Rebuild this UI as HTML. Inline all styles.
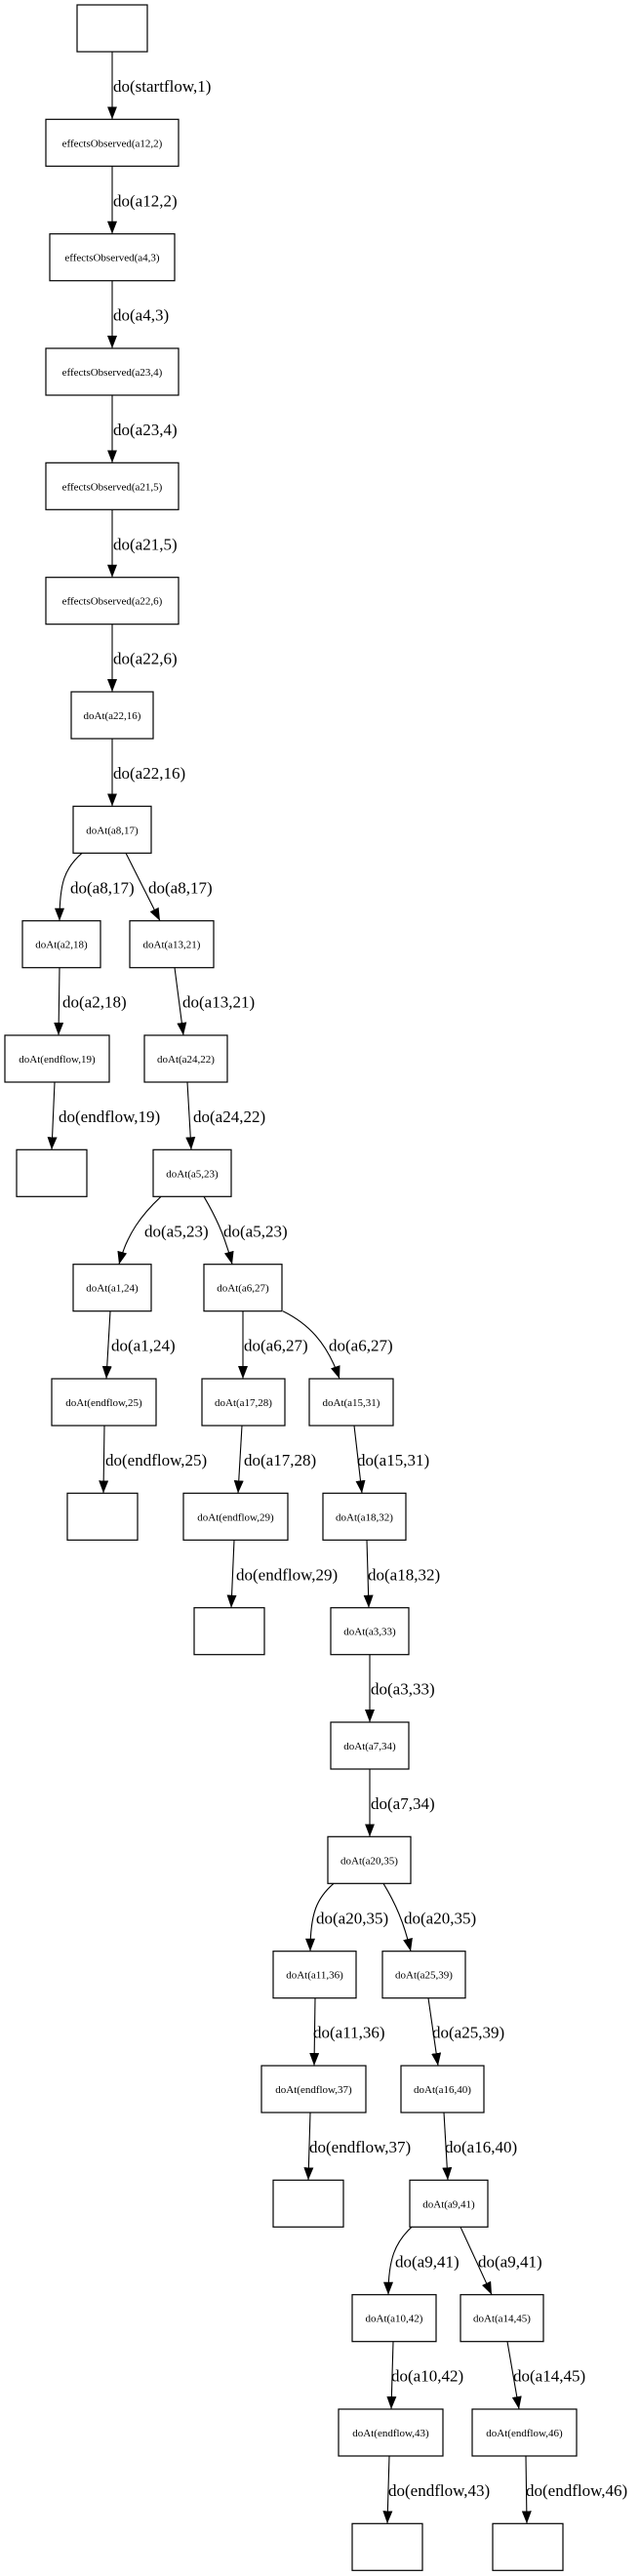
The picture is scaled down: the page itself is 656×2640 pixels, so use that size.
<!DOCTYPE html>
<html><head><meta charset="utf-8"><style>
html,body{margin:0;padding:0;background:#fff;}
svg{display:block}
.n{fill:#fff;stroke:#000;stroke-width:1.2}
.t{font-family:"Liberation Serif",serif;font-size:11px;text-anchor:middle}
.l{font-family:"Liberation Serif",serif;font-size:17px}
.e{fill:none;stroke:#000;stroke-width:1.1}
</style></head><body>
<svg width="656" height="2640" viewBox="0 0 656 2640" xmlns="http://www.w3.org/2000/svg">
<defs><marker id="a" viewBox="0 0 13 10" refX="13" refY="5" markerWidth="13" markerHeight="10" markerUnits="userSpaceOnUse" orient="auto"><path d="M0,0 L13,5 L0,10 z" fill="#000"/></marker></defs>

<!-- nodes -->
<rect class="n" x="79" y="5" width="72" height="48"/>
<rect class="n" x="47" y="122.3" width="136" height="48"/><text class="t" x="115" y="150.3">effectsObserved(a12,2)</text>
<rect class="n" x="51" y="239.7" width="128" height="48"/><text class="t" x="115" y="267.7">effectsObserved(a4,3)</text>
<rect class="n" x="47" y="357" width="136" height="48"/><text class="t" x="115" y="385">effectsObserved(a23,4)</text>
<rect class="n" x="47" y="474.3" width="136" height="48"/><text class="t" x="115" y="502.3">effectsObserved(a21,5)</text>
<rect class="n" x="47" y="591.7" width="136" height="48"/><text class="t" x="115" y="619.7">effectsObserved(a22,6)</text>
<rect class="n" x="73" y="709" width="84" height="48"/><text class="t" x="115" y="737">doAt(a22,16)</text>
<rect class="n" x="75" y="826.3" width="80" height="48"/><text class="t" x="115" y="854.3">doAt(a8,17)</text>
<rect class="n" x="23" y="943.7" width="80" height="48"/><text class="t" x="63" y="971.7">doAt(a2,18)</text>
<rect class="n" x="133" y="943.7" width="86" height="48"/><text class="t" x="176" y="971.7">doAt(a13,21)</text>
<rect class="n" x="5" y="1061" width="107" height="48"/><text class="t" x="58.5" y="1089">doAt(endflow,19)</text>
<rect class="n" x="148" y="1061" width="85" height="48"/><text class="t" x="190.5" y="1089">doAt(a24,22)</text>
<rect class="n" x="17" y="1178.3" width="72" height="48"/>
<rect class="n" x="157" y="1178.3" width="80" height="48"/><text class="t" x="197" y="1206.3">doAt(a5,23)</text>
<rect class="n" x="75" y="1295.7" width="80" height="48"/><text class="t" x="115" y="1323.7">doAt(a1,24)</text>
<rect class="n" x="209" y="1295.7" width="80" height="48"/><text class="t" x="249" y="1323.7">doAt(a6,27)</text>
<rect class="n" x="53" y="1413" width="107" height="48"/><text class="t" x="106.5" y="1441">doAt(endflow,25)</text>
<rect class="n" x="207" y="1413" width="85" height="48"/><text class="t" x="249.5" y="1441">doAt(a17,28)</text>
<rect class="n" x="317" y="1413" width="86" height="48"/><text class="t" x="360" y="1441">doAt(a15,31)</text>
<rect class="n" x="69" y="1530.3" width="72" height="48"/>
<rect class="n" x="188" y="1530.3" width="107" height="48"/><text class="t" x="241.5" y="1558.3">doAt(endflow,29)</text>
<rect class="n" x="331" y="1530.3" width="85" height="48"/><text class="t" x="373.5" y="1558.3">doAt(a18,32)</text>
<rect class="n" x="199" y="1647.7" width="72" height="48"/>
<rect class="n" x="339" y="1647.7" width="80" height="48"/><text class="t" x="379" y="1675.7">doAt(a3,33)</text>
<rect class="n" x="339" y="1765" width="80" height="48"/><text class="t" x="379" y="1793">doAt(a7,34)</text>
<rect class="n" x="336" y="1882.3" width="85" height="48"/><text class="t" x="378.5" y="1910.3">doAt(a20,35)</text>
<rect class="n" x="280" y="1999.7" width="85" height="48"/><text class="t" x="322.5" y="2027.7">doAt(a11,36)</text>
<rect class="n" x="392" y="1999.7" width="85" height="48"/><text class="t" x="434.5" y="2027.7">doAt(a25,39)</text>
<rect class="n" x="268" y="2117" width="107" height="48"/><text class="t" x="321.5" y="2145">doAt(endflow,37)</text>
<rect class="n" x="411" y="2117" width="85" height="48"/><text class="t" x="453.5" y="2145">doAt(a16,40)</text>
<rect class="n" x="280" y="2234.3" width="72" height="48"/>
<rect class="n" x="420" y="2234.3" width="80" height="48"/><text class="t" x="460" y="2262.3">doAt(a9,41)</text>
<rect class="n" x="361" y="2351.7" width="86" height="48"/><text class="t" x="404" y="2379.7">doAt(a10,42)</text>
<rect class="n" x="472" y="2351.7" width="85" height="48"/><text class="t" x="514.5" y="2379.7">doAt(a14,45)</text>
<rect class="n" x="347" y="2469" width="107" height="48"/><text class="t" x="400.5" y="2497">doAt(endflow,43)</text>
<rect class="n" x="484" y="2469" width="107" height="48"/><text class="t" x="537.5" y="2497">doAt(endflow,46)</text>
<rect class="n" x="361" y="2586.3" width="72" height="48"/>
<rect class="n" x="505" y="2586.3" width="72" height="48"/>

<!-- edges -->
<path class="e" marker-end="url(#a)" d="M115,53 L115,122.3"/><text class="l" x="116" y="94">do(startflow,1)</text>
<path class="e" marker-end="url(#a)" d="M115,170.3 L115,239.7"/><text class="l" x="116" y="211.3">do(a12,2)</text>
<path class="e" marker-end="url(#a)" d="M115,287.7 L115,357"/><text class="l" x="116" y="328.7">do(a4,3)</text>
<path class="e" marker-end="url(#a)" d="M115,405 L115,474.3"/><text class="l" x="116" y="446">do(a23,4)</text>
<path class="e" marker-end="url(#a)" d="M115,522.3 L115,591.7"/><text class="l" x="116" y="563.3">do(a21,5)</text>
<path class="e" marker-end="url(#a)" d="M115,639.7 L115,709"/><text class="l" x="116" y="680.7">do(a22,6)</text>
<path class="e" marker-end="url(#a)" d="M115,757 L115,826.3"/><text class="l" x="116" y="798">do(a22,16)</text>

<path class="e" marker-end="url(#a)" d="M84,874.3 C66,890 61,905 61,943.7"/><text class="l" x="72" y="915.3">do(a8,17)</text>
<path class="e" marker-end="url(#a)" d="M129,874.3 L164,943.7"/><text class="l" x="152" y="915.3">do(a8,17)</text>
<path class="e" marker-end="url(#a)" d="M61,991.7 L60,1061"/><text class="l" x="64" y="1032.7">do(a2,18)</text>
<path class="e" marker-end="url(#a)" d="M179,991.7 L188,1061"/><text class="l" x="187" y="1032.7">do(a13,21)</text>
<path class="e" marker-end="url(#a)" d="M56,1109 L53,1178.3"/><text class="l" x="60" y="1150">do(endflow,19)</text>
<path class="e" marker-end="url(#a)" d="M192,1109 L196,1178.3"/><text class="l" x="198" y="1150">do(a24,22)</text>

<path class="e" marker-end="url(#a)" d="M165,1226.3 C145,1245 130,1265 122,1295.7"/><text class="l" x="148" y="1267.3">do(a5,23)</text>
<path class="e" marker-end="url(#a)" d="M209,1226.3 C220,1245 230,1265 238,1295.7"/><text class="l" x="229" y="1267.3">do(a5,23)</text>
<path class="e" marker-end="url(#a)" d="M113,1343.7 L109,1413"/><text class="l" x="114" y="1384.7">do(a1,24)</text>
<path class="e" marker-end="url(#a)" d="M249,1343.7 L249,1413"/><text class="l" x="250" y="1384.7">do(a6,27)</text>
<path class="e" marker-end="url(#a)" d="M290,1343.7 C315,1356 335,1375 348,1413"/><text class="l" x="337" y="1384.7">do(a6,27)</text>
<path class="e" marker-end="url(#a)" d="M107,1461 L106,1530.3"/><text class="l" x="108" y="1502">do(endflow,25)</text>
<path class="e" marker-end="url(#a)" d="M248,1461 L244,1530.3"/><text class="l" x="250" y="1502">do(a17,28)</text>
<path class="e" marker-end="url(#a)" d="M363,1461 L371,1530.3"/><text class="l" x="366" y="1502">do(a15,31)</text>
<path class="e" marker-end="url(#a)" d="M240,1578.3 L237,1647.7"/><text class="l" x="242" y="1619.3">do(endflow,29)</text>
<path class="e" marker-end="url(#a)" d="M376,1578.3 L378,1647.7"/><text class="l" x="377" y="1619.3">do(a18,32)</text>
<path class="e" marker-end="url(#a)" d="M379,1695.7 L379,1765"/><text class="l" x="380" y="1736.7">do(a3,33)</text>
<path class="e" marker-end="url(#a)" d="M379,1813 L379,1882.3"/><text class="l" x="380" y="1854">do(a7,34)</text>

<path class="e" marker-end="url(#a)" d="M342,1930.3 C325,1945 318,1960 318,1999.7"/><text class="l" x="324" y="1971.3">do(a20,35)</text>
<path class="e" marker-end="url(#a)" d="M393,1930.3 C405,1950 414,1970 421,1999.7"/><text class="l" x="414" y="1971.3">do(a20,35)</text>
<path class="e" marker-end="url(#a)" d="M323,2047.7 L322,2117"/><text class="l" x="321" y="2088.7">do(a11,36)</text>
<path class="e" marker-end="url(#a)" d="M439,2047.7 L449,2117"/><text class="l" x="443" y="2088.7">do(a25,39)</text>
<path class="e" marker-end="url(#a)" d="M318,2165 L316,2234.3"/><text class="l" x="317" y="2206">do(endflow,37)</text>
<path class="e" marker-end="url(#a)" d="M455,2165 L459,2234.3"/><text class="l" x="456" y="2206">do(a16,40)</text>

<path class="e" marker-end="url(#a)" d="M422,2282.3 C405,2298 398,2315 398,2351.7"/><text class="l" x="405" y="2323.3">do(a9,41)</text>
<path class="e" marker-end="url(#a)" d="M472,2282.3 L504,2351.7"/><text class="l" x="490" y="2323.3">do(a9,41)</text>
<path class="e" marker-end="url(#a)" d="M403,2399.7 L401,2469"/><text class="l" x="401" y="2440.7">do(a10,42)</text>
<path class="e" marker-end="url(#a)" d="M520,2399.7 L532,2469"/><text class="l" x="526" y="2440.7">do(a14,45)</text>
<path class="e" marker-end="url(#a)" d="M399,2517 L397,2586.3"/><text class="l" x="398" y="2558">do(endflow,43)</text>
<path class="e" marker-end="url(#a)" d="M539,2517 L540,2586.3"/><text class="l" x="539" y="2558">do(endflow,46)</text>
</svg>
</body></html>
